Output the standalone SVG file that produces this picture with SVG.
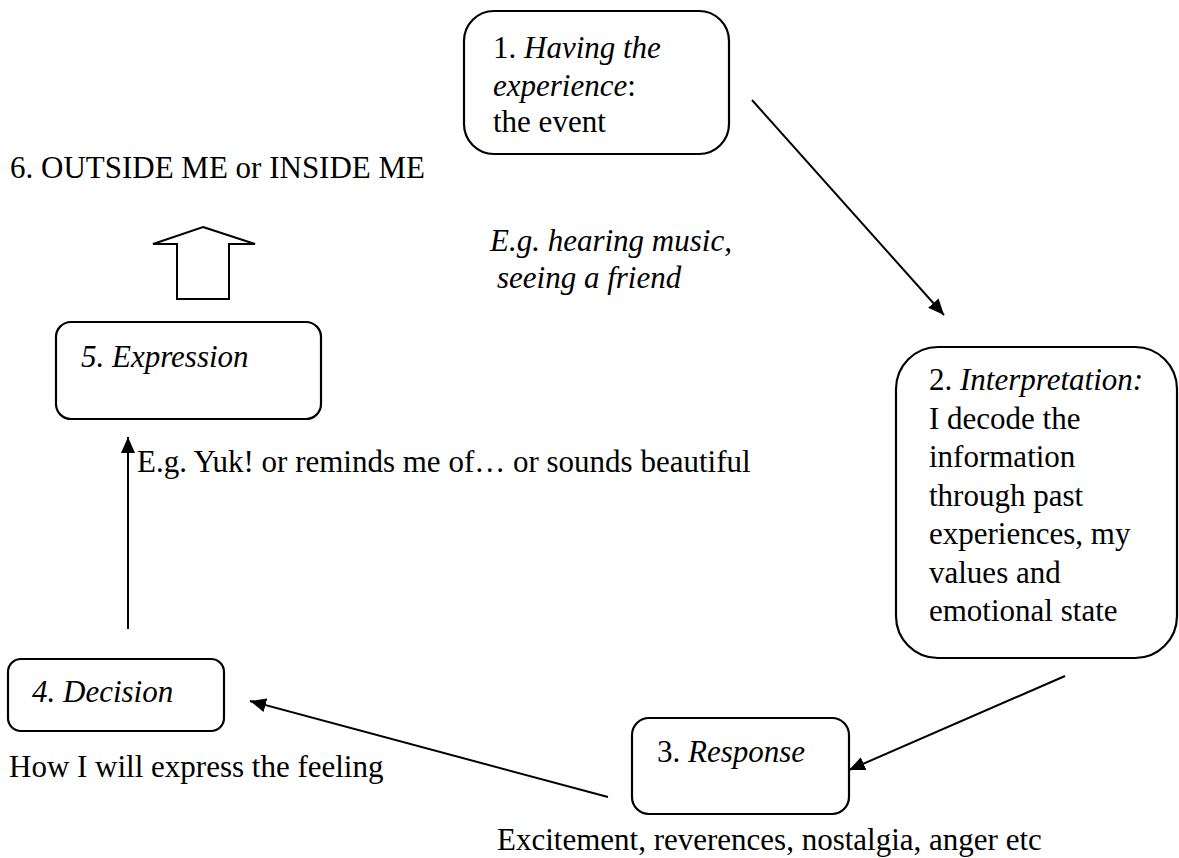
<svg xmlns="http://www.w3.org/2000/svg" width="1179" height="858" viewBox="0 0 1179 858">
<style>
text{font-family:"Liberation Serif","Times New Roman",serif;font-size:31px;fill:#000}
.i{font-style:italic}
.box{fill:#fff;stroke:#000;stroke-width:2.2}
.con{stroke:#000;stroke-width:2;fill:none}
</style>
<defs>
<marker id="ah" viewBox="0 0 16 14" refX="16" refY="7" markerWidth="16" markerHeight="14" markerUnits="userSpaceOnUse" orient="auto">
<path d="M0,0 L16,7 L0,14 z" fill="#000"/>
</marker>
</defs>
<rect width="1179" height="858" fill="#fff"/>

<g id="n6">
<text x="10" y="178">6. OUTSIDE ME or INSIDE ME</text>
<polygon points="203,227 255,244 229,244 229,299 177,299 177,244 153,244" fill="#fff" stroke="#000" stroke-width="2"/>
</g>

<g id="n1">
<rect class="box" x="464" y="11" width="265" height="143" rx="30"/>
<text x="493" y="58">1. <tspan class="i">Having the</tspan></text>
<text x="493" y="96"><tspan class="i">experience</tspan>:</text>
<text x="493" y="132">the event</text>
</g>

<g id="note1">
<text class="i" x="490" y="251">E.g. hearing music,</text>
<text class="i" x="497" y="288">seeing a friend</text>
</g>

<g id="n2">
<rect class="box" x="896" y="347" width="281" height="311" rx="42"/>
<text x="929" y="390">2. <tspan class="i">Interpretation:</tspan></text>
<text x="929" y="428.5">I decode the</text>
<text x="929" y="467">information</text>
<text x="929" y="505.5">through past</text>
<text x="929" y="544">experiences, my</text>
<text x="929" y="582.5">values and</text>
<text x="929" y="621">emotional state</text>
</g>

<g id="n3">
<rect class="box" x="632" y="718" width="217" height="96" rx="17"/>
<text x="657" y="762">3. <tspan class="i">Response</tspan></text>
<text x="497" y="850">Excitement, reverences, nostalgia, anger etc</text>
</g>

<g id="n4">
<rect class="box" x="8" y="659" width="216" height="72" rx="13"/>
<text class="i" x="32" y="702">4. Decision</text>
<text x="9" y="777">How I will express the feeling</text>
</g>

<g id="n5">
<rect class="box" x="56" y="322" width="265" height="97" rx="15"/>
<text class="i" x="81" y="367">5. Expression</text>
<text x="137" y="472">E.g. Yuk! or reminds me of… or sounds beautiful</text>
</g>

<g id="connectors">
<line class="con" x1="752" y1="100" x2="944" y2="315" marker-end="url(#ah)"/>
<line class="con" x1="1065" y1="676" x2="849" y2="770" marker-end="url(#ah)"/>
<line class="con" x1="608" y1="797" x2="250" y2="701" marker-end="url(#ah)"/>
<line class="con" x1="128" y1="629" x2="128" y2="437" marker-end="url(#ah)"/>
</g>
</svg>
